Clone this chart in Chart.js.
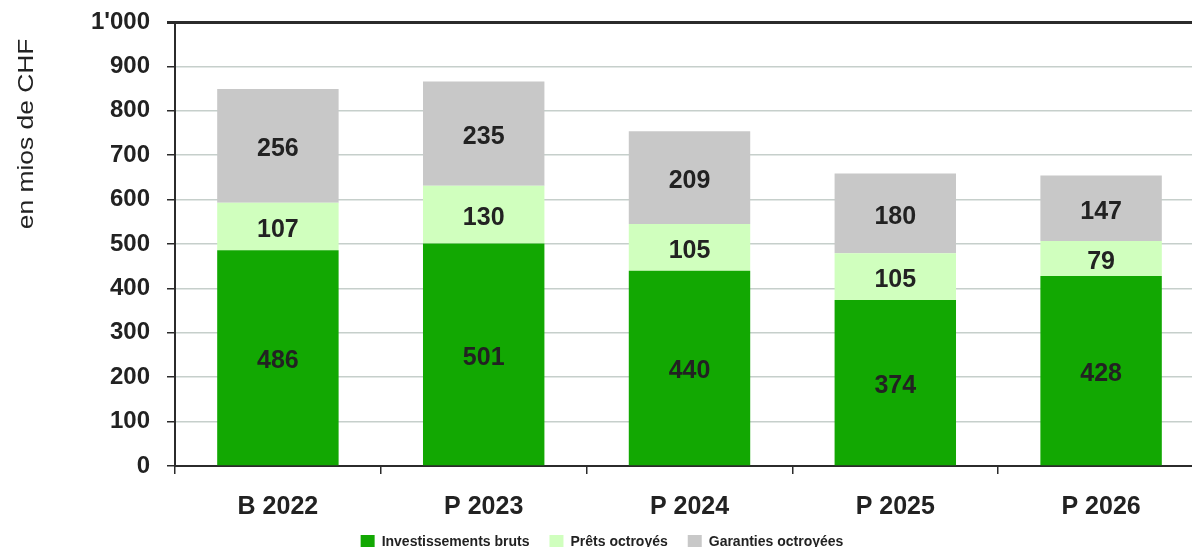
<!DOCTYPE html>
<html>
<head>
<meta charset="utf-8">
<script src="https://cdn.jsdelivr.net/npm/chart.js@4"></script>
<style>
  html, body { margin: 0; padding: 0; overflow: hidden; background: #fff; }
  #wrap { width: 1204px; height: 559px; }
</style>
</head>
<body>
<div id="wrap"><canvas id="myChart"></canvas></div>
<script>
const categories = ['B 2022', 'P 2023', 'P 2024', 'P 2025', 'P 2026'];
const investissements = [486, 501, 440, 374, 428];
const prets = [107, 130, 105, 105, 79];
const garanties = [256, 235, 209, 180, 147];
const yTicks = [0, 100, 200, 300, 400, 500, 600, 700, 800, 900, 1000];
const yTitle = 'en mios de CHF';

const dark = '#2b2b2b';
const gridColor = '#c6cfcb';

// values written in the middle of each segment
const barValues = {
    id: 'barValues',
    afterDatasetsDraw(chart) {
        const ctx = chart.ctx;
        ctx.save();
        ctx.font = 'bold 25px "Liberation Sans", Arial, sans-serif';
        ctx.fillStyle = '#222';
        ctx.textAlign = 'center';
        ctx.textBaseline = 'middle';
        chart.data.datasets.forEach((ds, i) => {
            chart.getDatasetMeta(i).data.forEach((bar, j) => {
                ctx.fillText(String(ds.data[j]), bar.x, (bar.y + bar.base) / 2 + 3.5);
            });
        });
        ctx.restore();
    }
};

// rotated axis title, placed high like the original
const sideTitle = {
    id: 'sideTitle',
    afterDraw(chart) {
        const ctx = chart.ctx;
        const y = chart.scales.y;
        ctx.save();
        ctx.translate(33, y.getPixelForValue(748));
        ctx.rotate(-Math.PI / 2);
        ctx.scale(1.2, 1);
        ctx.font = '22px "Liberation Sans", Arial, sans-serif';
        ctx.fillStyle = '#222';
        ctx.textAlign = 'center';
        ctx.textBaseline = 'alphabetic';
        ctx.fillText(yTitle, 0, 0);
        ctx.restore();
    }
};

Chart.defaults.font.family = '"Liberation Sans", Arial, sans-serif';
Chart.defaults.color = '#222';

new Chart(document.getElementById('myChart'), {
    type: 'bar',
    data: {
        labels: categories,
        datasets: [
            { label: 'Investissements bruts', data: investissements, backgroundColor: '#12a802' },
            { label: 'Prêts octroyés', data: prets, backgroundColor: '#d0ffbe' },
            { label: 'Garanties octroyées', data: garanties, backgroundColor: '#c8c8c8' }
        ]
    },
    options: {
        animation: false,
        responsive: true,
        maintainAspectRatio: false,
        devicePixelRatio: 1,
        layout: { padding: { top: 22, right: 0, left: 0, bottom: 0 } },
        datasets: { bar: { barPercentage: 0.59, categoryPercentage: 1 } },
        scales: {
            x: {
                stacked: true,
                border: { display: true, color: dark, width: 2 },
                grid: { offset: true, drawOnChartArea: false, drawTicks: true, tickLength: 8, tickColor: dark, lineWidth: 1.5 },
                ticks: { padding: 18, font: { size: 25, weight: 'bold' }, color: '#222' },
                afterFit(scale) { scale.height = 49; scale.paddingLeft = 0; scale.paddingRight = 0; }
            },
            y: {
                stacked: true,
                min: 0,
                max: 1000,
                afterBuildTicks(scale) { scale.ticks = yTicks.map(v => ({ value: v })); },
                border: { display: true, color: dark, width: 2 },
                grid: {
                    color: c => c.tick && c.tick.value === 1000 ? dark : gridColor,
                    lineWidth: c => c.tick && c.tick.value === 1000 ? 3 : 1.5,
                    tickLength: 8,
                    tickColor: dark
                },
                ticks: {
                    padding: 17,
                    font: { size: 24, weight: 'bold' },
                    color: '#222',
                    callback: v => v >= 1000 ? "1'" + String(v % 1000).padStart(3, '0') : String(v)
                },
                afterFit(scale) { scale.width = 175; scale.paddingTop = 0; scale.paddingBottom = 0; }
            }
        },
        plugins: {
            legend: {
                position: 'bottom',
                labels: {
                    boxWidth: 14,
                    boxHeight: 14,
                    padding: 20,
                    font: { size: 14, weight: 'bold' },
                    color: '#222'
                }
            },
            tooltip: { enabled: false }
        }
    },
    plugins: [barValues, sideTitle]
});
</script>
</body>
</html>
